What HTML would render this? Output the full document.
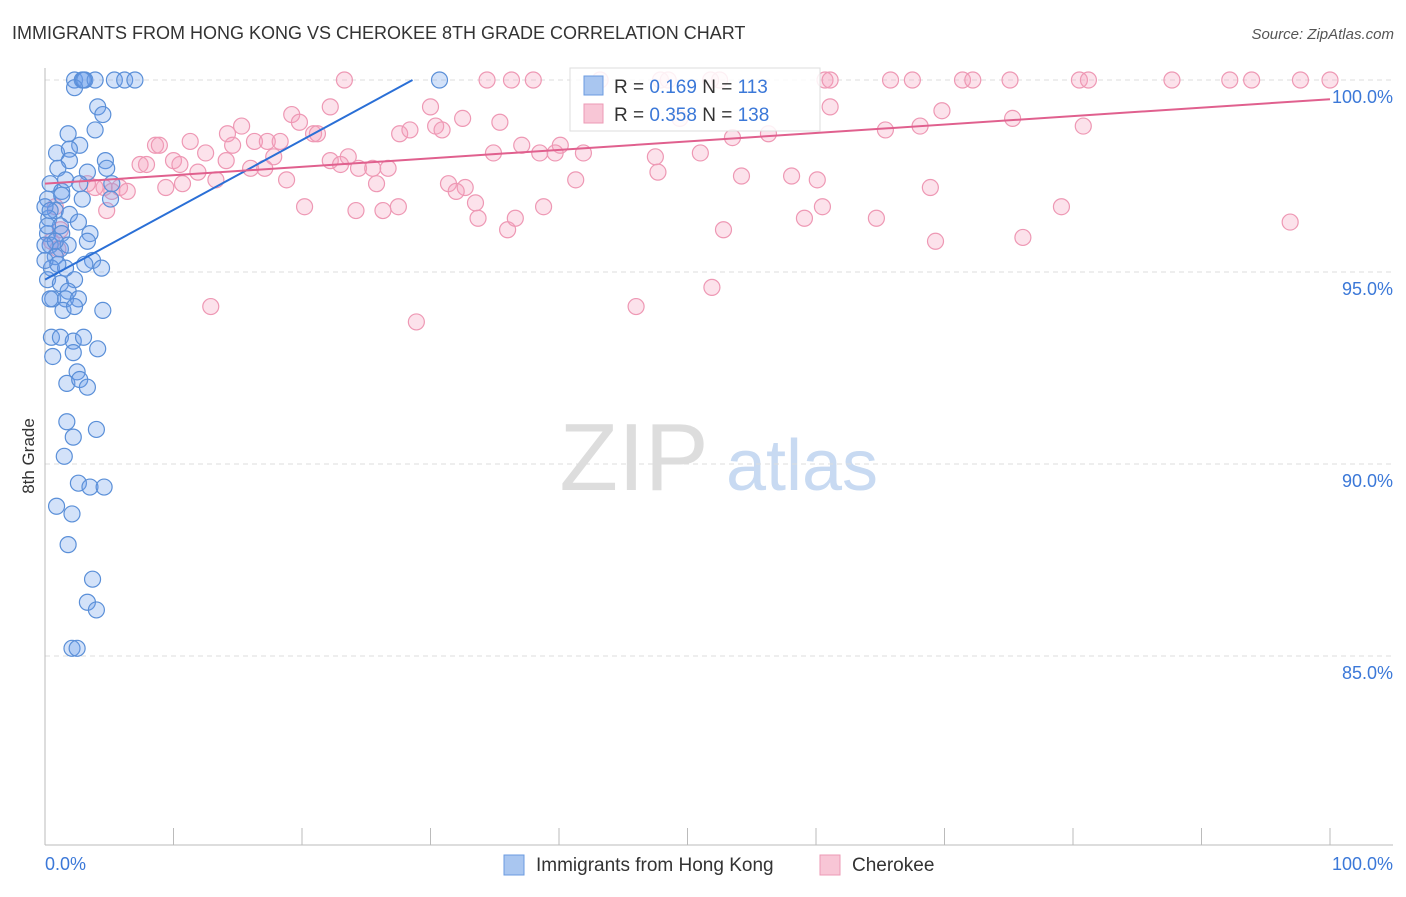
<!DOCTYPE html>
<html><head><meta charset="utf-8"><style>
body{margin:0;background:#fff;font-family:"Liberation Sans",sans-serif}
svg text{font-family:"Liberation Sans",sans-serif}
</style></head><body>
<svg width="1406" height="892" xmlns="http://www.w3.org/2000/svg">
<text x="12" y="39" font-size="18" fill="#333">IMMIGRANTS FROM HONG KONG VS CHEROKEE 8TH GRADE CORRELATION CHART</text>
<text x="1394" y="39" font-size="15" fill="#555" text-anchor="end" font-style="italic">Source: ZipAtlas.com</text>
<g>
<text x="634" y="490" font-size="96" fill="#ddd" text-anchor="middle" font-family="Liberation Serif,serif">ZIP</text>
<text x="802" y="490" font-size="72" fill="#c8daf2" text-anchor="middle">atlas</text>
</g>
<g id="grid"></g>
<g id="axes"></g>
<g id="marks"></g>
<g id="lines"></g>
<text x="34" y="456" font-size="17" fill="#333" text-anchor="middle" transform="rotate(-90 34 456)">8th Grade</text>
<g>
<rect x="570" y="68" width="250" height="63" fill="#fff" fill-opacity="0.85" stroke="#ddd"/>
<rect x="584" y="76" width="19" height="19" fill="#a9c6f0" stroke="#6b9be0"/>
<rect x="584" y="104" width="19" height="19" fill="#f8c6d6" stroke="#ec9ab5"/>
<text x="614" y="93" font-size="19" fill="#333">R = <tspan fill="#3b78d8">0.169</tspan>   N = <tspan fill="#3b78d8">113</tspan></text>
<text x="614" y="121" font-size="19" fill="#333">R = <tspan fill="#3b78d8">0.358</tspan>   N = <tspan fill="#3b78d8">138</tspan></text>
</g>
<g>
<rect x="504" y="855" width="20" height="20" fill="#a9c6f0" stroke="#6b9be0"/>
<text x="536" y="871" font-size="19" fill="#333">Immigrants from Hong Kong</text>
<rect x="820" y="855" width="20" height="20" fill="#f8c6d6" stroke="#ec9ab5"/>
<text x="852" y="871" font-size="19" fill="#333">Cherokee</text>
</g>
</svg>
<script>
const yTicks=[100,95,90,85];
const yTickLabels=["100.0%","95.0%","90.0%","85.0%"];
const xTickLabels=["0.0%","100.0%"];
const blueX=[2.3,2.9,3.1,3.9,5.4,6.2,7.0,2.3,3.0,4.1,4.5,3.9,1.8,2.7,0.9,1.9,1.9,4.7,4.8,3.3,1.0,0.4,1.3,2.7,5.2,0.2,1.3,5.1,2.9,0.8,1.9,0.3,1.2,2.6,0.2,1.3,3.5,3.3,0.4,1.2,1.8,0.8,3.7,4.4,0.5,1.6,0.2,1.2,2.3,1.8,0.6,1.6,2.6,1.4,2.3,4.5,0.5,1.2,2.2,3.0,0.6,2.2,4.1,2.5,1.7,2.7,3.3,1.7,2.2,4.0,1.5,2.6,3.5,4.6,0.9,2.1,1.8,3.7,3.3,4.0,2.1,2.5,30.7,0.0,0.0,0.2,0.8,1.6,1.0,0.4,3.1,0.0,0.4];
const blueY=[100,100,100,100,100,100,100,99.8,100,99.3,99.1,98.7,98.6,98.3,98.1,98.2,97.9,97.9,97.7,97.6,97.7,97.3,97.1,97.3,97.3,96.9,97.0,96.9,96.9,96.6,96.5,96.4,96.2,96.3,96.0,96.0,96.0,95.8,95.7,95.6,95.7,95.4,95.3,95.1,95.1,95.1,94.8,94.7,94.8,94.5,94.3,94.3,94.3,94.0,94.1,94.0,93.3,93.3,93.2,93.3,92.8,92.9,93.0,92.4,92.1,92.2,92.0,91.1,90.7,90.9,90.2,89.5,89.4,89.4,88.9,88.7,87.9,87.0,86.4,86.2,85.2,85.2,100,96.7,95.3,96.2,95.8,97.4,95.2,94.3,95.2,95.7,96.6];
const pinkX=[23.3,34.4,36.3,38.0,43.2,47.9,48.5,51.8,52.5,60.7,61.1,65.8,67.5,71.4,72.2,75.1,80.5,81.2,87.7,92.2,93.9,97.7,100,61.1,49.4,30.0,19.2,22.2,32.5,35.4,69.8,75.3,80.8,15.3,19.8,20.9,21.2,27.6,28.4,30.4,30.9,65.4,68.1,56.3,53.5,8.6,8.9,11.3,14.2,14.6,16.3,17.3,18.3,37.1,40.1,34.9,38.5,39.7,41.9,47.5,51.0,7.4,7.9,10.0,10.5,12.5,14.1,17.8,22.2,23.6,23.0,24.4,25.5,26.7,16.0,17.1,11.9,13.3,10.7,9.4,18.8,25.8,31.4,32.7,32.0,41.3,47.7,54.2,58.1,60.1,68.9,4.6,5.2,5.8,6.4,3.9,3.3,4.8,20.2,24.2,26.3,27.5,33.5,33.7,36.0,36.6,38.8,52.8,59.1,60.5,64.7,69.3,76.1,79.1,96.9,51.9,46.0,12.9,28.9,0.5,0.8,1.2,1.0];
const pinkY=[100,100,100,100,100,100,100,100,100,100,100,100,100,100,100,100,100,100,100,100,100,100,100,99.3,99.0,99.3,99.1,99.3,99.0,98.9,99.2,99.0,98.8,98.8,98.9,98.6,98.6,98.6,98.7,98.8,98.7,98.7,98.8,98.6,98.5,98.3,98.3,98.4,98.6,98.3,98.4,98.4,98.4,98.3,98.3,98.1,98.1,98.1,98.1,98.0,98.1,97.8,97.8,97.9,97.8,98.1,97.9,98.0,97.9,98.0,97.8,97.7,97.7,97.7,97.7,97.7,97.6,97.4,97.3,97.2,97.4,97.3,97.3,97.2,97.1,97.4,97.6,97.5,97.5,97.4,97.2,97.2,97.1,97.2,97.1,97.2,97.3,96.6,96.7,96.6,96.6,96.7,96.8,96.4,96.1,96.4,96.7,96.1,96.4,96.7,96.4,95.8,95.9,96.7,96.3,94.6,94.1,94.1,93.7,95.8,96.7,96.1,95.6];
const blueFitX=[0,28.6], blueFitY=[94.8,100];
const pinkFitX=[0,100], pinkFitY=[97.3,99.5];

const NS="http://www.w3.org/2000/svg";
const X0=45,X1=1330,YT=80,PX=38.4;
function sx(v){return X0+(X1-X0)*v/100;}
function sy(v){return YT+(100-v)*PX;}
function mk(t,a,p){const e=document.createElementNS(NS,t);for(const k in a)e.setAttribute(k,a[k]);p.appendChild(e);return e;}
const grid=document.getElementById('grid'),axes=document.getElementById('axes'),marks=document.getElementById('marks'),lines=document.getElementById('lines');
yTicks.forEach((v,i)=>{
 const l=mk('line',{x1:45,x2:1393,y1:sy(v),y2:sy(v),stroke:'#ddd','stroke-dasharray':'5,4'},grid);
 
 
 const t=mk('text',{x:1393,y:sy(v)+23,'font-size':18,fill:'#3b78d8','text-anchor':'end'},axes);
 t.textContent=yTickLabels[i];
 
 
});
const ya=mk('line',{x1:45,x2:45,y1:68,y2:845,stroke:'#bbb'},axes);


const xa=mk('line',{x1:45,x2:1393,y1:845,y2:845,stroke:'#bbb'},axes);


for(let i=0;i<=10;i++){
 const tk=mk('line',{x1:sx(i*10),x2:sx(i*10),y1:828,y2:845,stroke:'#bbb'},axes);
 
 
}
[[0,'start',45],[100,'end',1393]].forEach((d,i)=>{
 const t=mk('text',{x:d[2],y:870,'font-size':18,fill:'#3b78d8','text-anchor':d[1]},axes);
 t.textContent=xTickLabels[i];
 
 
});
function pts(xs,ys,fill,stroke,name){
 xs.forEach((x,i)=>{
  const c=mk('circle',{cx:sx(x),cy:sy(ys[i]),r:8,fill:fill,stroke:stroke,'stroke-width':1.2},marks);
  
  
 });
}
pts(pinkX,pinkY,'rgba(244,160,188,0.3)','#ee98b4','cherokee-point');
pts(blueX,blueY,'rgba(110,160,235,0.3)','#5a8fd8','hong-kong-point');
const bl=mk('line',{x1:sx(blueFitX[0]),y1:sy(blueFitY[0]),x2:sx(blueFitX[1]),y2:sy(blueFitY[1]),stroke:'#2a6fd6','stroke-width':2},lines);


const pl=mk('line',{x1:sx(pinkFitX[0]),y1:sy(pinkFitY[0]),x2:sx(pinkFitX[1]),y2:sy(pinkFitY[1]),stroke:'#e0608e','stroke-width':2},lines);


</script>
</body></html>
